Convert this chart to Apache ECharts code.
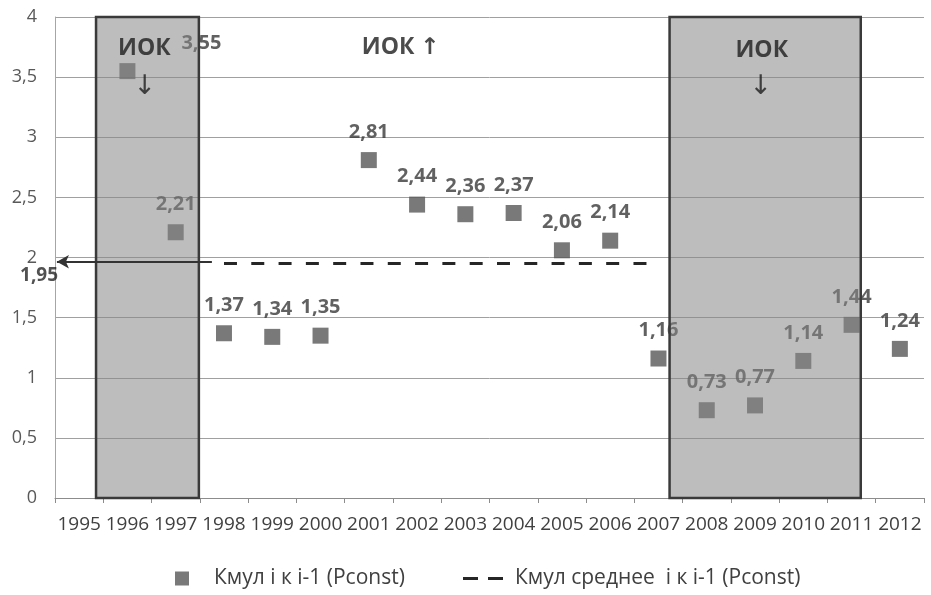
<!DOCTYPE html>
<html>
<head>
<meta charset="utf-8">
<script src="https://cdn.jsdelivr.net/npm/echarts@6/dist/echarts.min.js"></script>
<style>
html,body{margin:0;padding:0;background:#fff;}
#chart{width:931px;height:595px;}
</style>
</head>
<body>
<div id="chart"></div>
<script>
// ---- data ----
var categories = ['1995','1996','1997','1998','1999','2000','2001','2002','2003','2004','2005','2006','2007','2008','2009','2010','2011','2012'];
var kmulValues = [null, 3.55, 2.21, 1.37, 1.34, 1.35, 2.81, 2.44, 2.36, 2.37, 2.06, 2.14, 1.16, 0.73, 0.77, 1.14, 1.44, 1.24];
var kmulMean   = [null, null, null, 1.95, 1.95, 1.95, 1.95, 1.95, 1.95, 1.95, 1.95, 1.95, 1.95, null, null, null, null, null];
var meanValue = 1.95;
var seriesNames = ['Кмул і к і-1 (Pconst)', 'Кмул среднее  і к і-1 (Pconst)'];
var yTicks = [0, 0.5, 1, 1.5, 2, 2.5, 3, 3.5, 4];
// shaded periods, in category units along the axis (0 = left edge of 1995)
var periodRanges = [[0.85, 2.98], [12.73, 16.69]];
// annotations: text and data-space anchor [category units, value]
var annotationTexts = ['ИОК', '↓', 'ИОК ↑', 'ИОК', '↓'];
var annotationAt = [[1.85, 3.74], [1.86, 3.42], [7.16, 3.75], [14.64, 3.72], [14.62, 3.42]];

var FONT = '"Open Sans", "DejaVu Sans", sans-serif';
function fmt(v){ return String(v).replace('.', ','); }
function fmt2(v){ return v.toFixed(2).replace('.', ','); }

var chart = echarts.init(document.getElementById('chart'), null, {renderer:'canvas'});

var scatterData = kmulValues.map(function(v, i){
  if (v === null) return null;
  var item = {value: v};
  if (i === 1) item.label = {offset: [74, 0]};
  return item;
});

var annData = annotationTexts.map(function(t, i){
  var isArrow = (t === '↓');
  return {
    name: t,
    value: annotationAt[i],
    label: isArrow ? {fontWeight:'normal', fontSize: 27, fontFamily:'"DejaVu Sans", sans-serif'} : {}
  };
});
var meanLabelData = [{name: fmt2(meanValue), value: [-0.33, meanValue - 0.1], label: {fontSize: 19, color: '#262626'}}];

var areas = periodRanges.map(function(r){
  return [{coord:[r[0], yTicks[yTicks.length-1]]}, {coord:[r[1], yTicks[0]]}];
});

var option = {
  animation: false,
  textStyle: {fontFamily: FONT},
  grid: {left: 55, right: 7, top: 17, bottom: 97},
  legend: [{
    data: [{name: seriesNames[0], icon: 'rect'}],
    left: 170, top: 563,
    itemWidth: 14, itemHeight: 14,
    textStyle: {fontFamily: FONT, fontSize: 21, color: '#404040', padding:[0,0,0,20]}
  },{
    data: [{name: seriesNames[1], icon: 'path://M0,0H15V3H0Z M25,0H40V3H25Z'}],
    left: 458, top: 563,
    itemWidth: 40, itemHeight: 3,
    itemStyle: {color: '#262626'},
    textStyle: {fontFamily: FONT, fontSize: 21, color: '#404040', padding:[0,0,0,7]}
  }],
  xAxis: [{
    type: 'category',
    data: categories,
    boundaryGap: true,
    axisLine: {lineStyle: {color: '#8c8c8c', width: 1}},
    axisTick: {show: true, length: 5, lineStyle: {color: '#8c8c8c'}},
    axisLabel: {color: '#404040', fontSize: 19, fontFamily: FONT, margin: 17, interval: 0},
    splitLine: {show: false}
  },{
    type: 'value', min: 0, max: categories.length, show: false
  }],
  yAxis: {
    type: 'value', min: yTicks[0], max: yTicks[yTicks.length-1], interval: 0.5,
    axisLine: {show: true, lineStyle: {color: '#a6a6a6'}},
    axisTick: {show: false},
    axisLabel: {color: '#595959', fontSize: 18, fontFamily: FONT, margin: 18, formatter: fmt},
    splitLine: {lineStyle: {color: '#a0a0a0', width: 1}}
  },
  series: [{
    name: seriesNames[0],
    type: 'scatter',
    data: scatterData,
    symbol: 'rect',
    symbolSize: 16,
    itemStyle: {color: '#575757'},
    label: {
      show: true, position: 'top', distance: 10,
      fontFamily: FONT, fontSize: 20, fontWeight: 'bold', color: '#3a3a3a',
      formatter: function(p){ return fmt2(p.value); }
    },
    z: 3
  },{
    name: seriesNames[1],
    type: 'line',
    data: kmulMean,
    symbol: 'none',
    lineStyle: {color: '#262626', width: 3, type: [13, 14.3]},
    itemStyle: {color: '#262626'},
    z: 3
  },{
    name: 'periods',
    type: 'scatter',
    xAxisIndex: 1,
    data: [],
    silent: true,
    markArea: {
      z: 10,
      silent: true,
      itemStyle: {color: 'rgba(135,135,135,0.55)', borderColor: '#3a3a3a', borderWidth: 2.5},
      data: areas
    }
  },{
    name: 'notes',
    type: 'scatter',
    xAxisIndex: 1,
    clip: false,
    silent: true,
    z: 20,
    symbolSize: 1,
    itemStyle: {color: 'rgba(0,0,0,0)'},
    label: {
      show: true, position: 'inside', formatter: '{b}',
      fontFamily: FONT, fontSize: 23, fontWeight: 'bold', color: '#1e1e1e'
    },
    data: annData.concat(meanLabelData),
    markLine: {
      z: 15,
      silent: true,
      symbol: ['none', 'arrow'],
      symbolSize: [10, 12],
      label: {show: false},
      lineStyle: {color: '#333333', width: 2, type: 'solid'},
      data: [[{coord: [3.25, meanValue + 0.015]}, {coord: [0.04, meanValue + 0.015]}]]
    }
  }]
};
chart.setOption(option);
</script>
</body>
</html>
